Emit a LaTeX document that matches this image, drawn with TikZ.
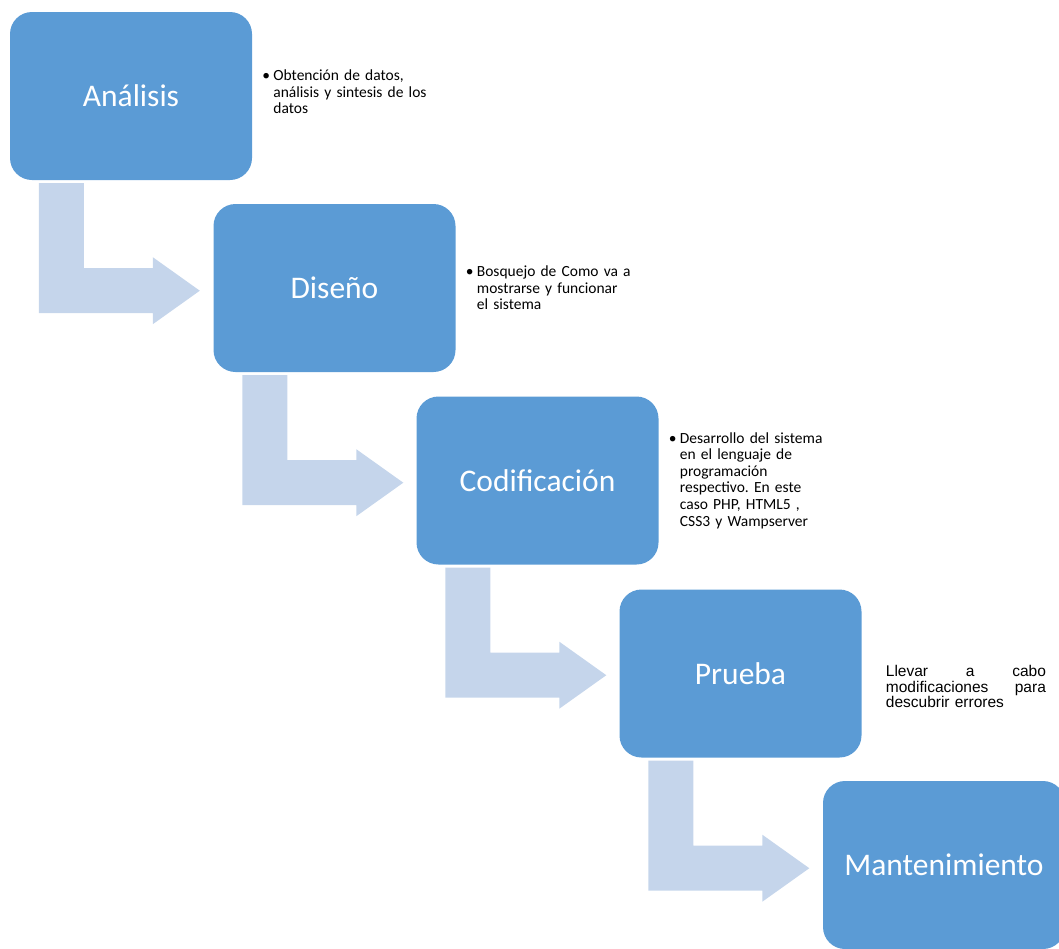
\documentclass[tikz,border=0pt]{standalone}
\usepackage{fontspec}
\setmainfont{Carlito}
\newfontfamily\arialfont{Liberation Sans}
\usepackage{tikz}
\usetikzlibrary{positioning,calc}
\frenchspacing
\definecolor{azulfase}{RGB}{91,155,213}
\definecolor{azulflecha}{RGB}{197,213,235}
\tikzstyle{fase} = [rectangle, 
rounded corners=22pt, minimum width=242pt, minimum height=168pt, text centered, fill=azulfase, text=white, font=\fontsize{31.5}{36}\selectfont]
\tikzstyle{nota} = [inner sep=0pt, text width=185pt, align=left, font=\fontsize{15.5}{16.6}\selectfont]
\tikzstyle{flecha} = [fill=azulflecha]
\newcommand{\bala}[1]{\makebox[11pt][l]{\textbullet}\parbox[t]{174pt}{\raggedright #1}}
\newcommand{\flechadoblada}[1]{\fill[flecha] ($(#1.south west)+(29,3)$) -- ++(45,0) -- ++(0,85) -- ++(69,0) -- ++(0,-11) -- ++(47,33.5) -- ++(-47,33.5) -- ++(0,-11) -- ++(-114,0) -- cycle;}

\begin{document}
\begin{tikzpicture}[x=1pt,y=-1pt]
						\useasboundingbox (0,0) rectangle (1059,948);
						\node (analisis) at (131,96) [fase] {Análisis};
						\node (diseno) at (334.5,288) [fase] {Diseño};
						\node (codificacion) at (537.5,480.5) [fase] {Codificación};
						\node (prueba) at (740.5,673.5) [fase] {Prueba};
						\node (mantenimiento) at (944,865) [fase] {Mantenimiento};
						\flechadoblada{analisis}
						\flechadoblada{diseno}
						\flechadoblada{codificacion}
						\flechadoblada{prueba}
						\node (nanalisis) [nota, right=10pt of analisis, yshift=4pt] {\bala{Obtención de datos,\\ análisis y sintesis de los\\ datos}};
						\node (ndiseno) [nota, right=10pt of diseno] {\bala{Bosquejo de Como va a\\ mostrarse y funcionar\\ el sistema}};
						\node (ncodificacion) [nota, right=10pt of codificacion] {\bala{Desarrollo del sistema\\ en el lenguaje de\\ programación\\ respectivo. En este\\ caso PHP, HTML5 ,\\ CSS3 y Wampserver}};
						\node (nprueba) [nota, text width=160pt, font=\arialfont\fontsize{15.5}{15.7}\selectfont, right=24pt of prueba, yshift=-13pt] {Llevar\hfill a\hfill cabo\\ modificaciones\hfill para\\ descubrir errores};
					\end{tikzpicture}
\end{document}
